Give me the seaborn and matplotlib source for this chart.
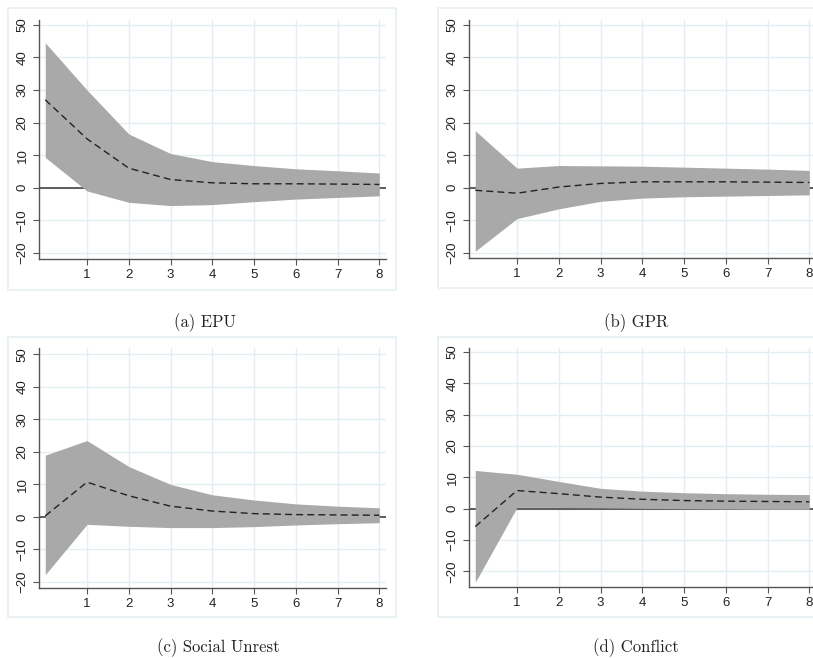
import numpy as np
import pandas as pd
import matplotlib
matplotlib.use("Agg")
import matplotlib.pyplot as plt
import seaborn as sns
from matplotlib.patches import Rectangle

# horizon steps
steps = [0, 1, 2, 3, 4, 5, 6, 7, 8]

# (a) EPU
epu_mid = [27, 15, 6, 2.5, 1.5, 1.2, 1.2, 1.1, 1.0]
epu_up = [44.5, 30, 16.5, 10.5, 8, 6.8, 5.8, 5.2, 4.5]
epu_lo = [9.3, -1, -4.5, -5.5, -5.2, -4.3, -3.5, -3, -2.5]

# (b) GPR
gpr_mid = [-0.8, -1.7, 0.2, 1.3, 1.8, 1.8, 1.8, 1.7, 1.6]
gpr_up = [17.5, 6, 6.8, 6.7, 6.6, 6.3, 6, 5.7, 5.3]
gpr_lo = [-19.5, -9.5, -6.5, -4.2, -3.2, -2.8, -2.6, -2.4, -2.2]

# (c) Social Unrest
su_mid = [0.3, 10.7, 6.5, 3.3, 1.8, 1.0, 0.7, 0.6, 0.5]
su_up = [19, 23.5, 15.5, 10, 6.8, 5.2, 4, 3.3, 2.8]
su_lo = [-17.8, -2.3, -2.9, -3.3, -3.3, -3, -2.5, -2.1, -1.8]

# (d) Conflict
con_mid = [-5.7, 5.8, 4.8, 3.7, 3.0, 2.6, 2.4, 2.3, 2.2]
con_up = [12.2, 11, 8.7, 6.5, 5.6, 5.1, 4.8, 4.6, 4.5]
con_lo = [-23.5, 0.4, 0.4, 0.3, 0.1, 0.0, -0.1, -0.2, -0.2]

captions = ["(a) EPU", "(b) GPR", "(c) Social Unrest", "(d) Conflict"]

sns.set_style("white")

W, H = 813, 658
fig = plt.figure(figsize=(W / 100, H / 100), dpi=100)
fig.patch.set_facecolor("white")

grid_col = "#e3eef2"
frame_col = "#e6eff3"
band_col = "#a9a9a9"
axis_col = "#555555"


def px_axes(left, top, right, bottom):
    return fig.add_axes([left / W, 1 - bottom / H, (right - left) / W, (bottom - top) / H])


def px_box(left, top, right, bottom):
    fig.patches.append(Rectangle((left / W, 1 - bottom / H), (right - left) / W, (bottom - top) / H,
                                 transform=fig.transFigure, facecolor="none",
                                 edgecolor=frame_col, linewidth=1.2, zorder=0))


# data, axes box (px), frame box (px), ylim, caption position (px)
panels = [
    ((epu_mid, epu_up, epu_lo), (39, 20, 386, 259), (8, 8, 396, 290), (-21.9, 51.5), (205, 323)),
    ((gpr_mid, gpr_up, gpr_lo), (469, 20, 816, 258), (438, 8, 826, 288), (-21.6, 51.5), (636, 323)),
    ((su_mid, su_up, su_lo), (39, 348, 386, 588), (8, 337, 396, 617), (-21.9, 52.0), (218, 648)),
    ((con_mid, con_up, con_lo), (469, 348, 816, 587), (438, 337, 826, 617), (-25.0, 51.3), (636, 648)),
]

for i, p in enumerate(panels):
    (mid, up, lo), abox, fbox, ylim, cap_pos = p
    px_box(*fbox)
    ax = px_axes(*abox)
    df = pd.DataFrame({"step": steps, "irf": mid, "upper": up, "lower": lo})

    ax.axhline(0, color="#444444", linewidth=1.2, zorder=1)
    ax.fill_between(df["step"], df["lower"], df["upper"], color=band_col, linewidth=0, zorder=2)
    sns.lineplot(data=df, x="step", y="irf", ax=ax, color="#222222", linewidth=1.0,
                 linestyle=(0, (5, 3)), zorder=3)

    ax.set_xlim(-0.15, 8.16)
    ax.set_ylim(*ylim)
    ax.set_xticks(range(1, 9))
    ax.set_yticks(range(-20, 51, 10))
    ax.grid(True, color=grid_col, linewidth=1.0, zorder=0)
    ax.set_axisbelow(True)
    ax.set_xlabel("")
    ax.set_ylabel("")
    for s in ["top", "right"]:
        ax.spines[s].set_visible(False)
    for s in ["left", "bottom"]:
        ax.spines[s].set_color(axis_col)
        ax.spines[s].set_linewidth(1.0)
    ax.tick_params(axis="both", which="major", length=4, width=0.8, color=axis_col,
                   labelsize=9.5, labelcolor="#222222", direction="out", bottom=True, left=True, pad=3.5)
    for lab in ax.get_yticklabels():
        lab.set_rotation(90)
        lab.set_va("center")
        lab.set_family("Liberation Sans")
    for lab in ax.get_xticklabels():
        lab.set_family("Liberation Sans")
    ax.set_facecolor("white")

    fig.text(cap_pos[0] / W, 1 - cap_pos[1] / H, captions[i], ha="center", va="center",
             fontsize=12, family=["cmr10", "DejaVu Serif"], color="#222222")

fig.savefig("out.png", dpi=100, facecolor="white")
